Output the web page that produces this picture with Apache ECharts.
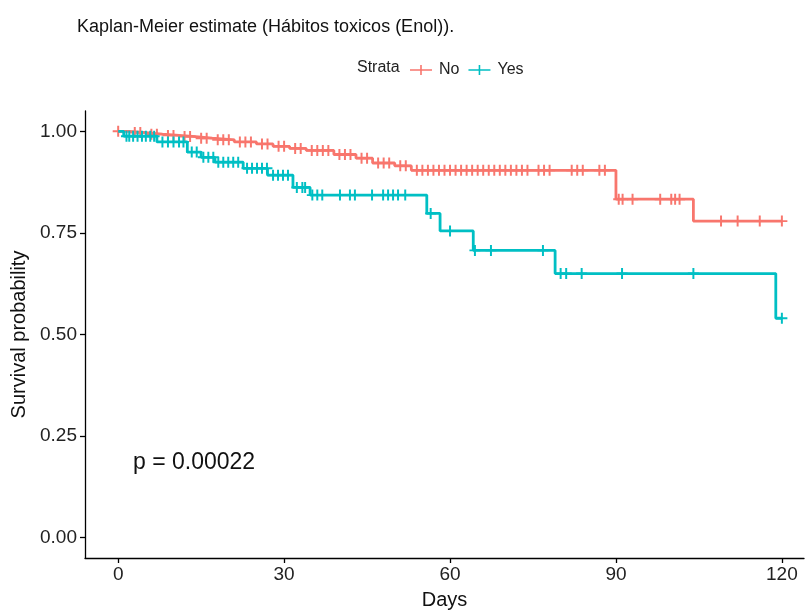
<!DOCTYPE html>
<html>
<head>
<meta charset="utf-8">
<script src="https://cdn.jsdelivr.net/npm/echarts@6/dist/echarts.min.js"></script>
<style>html,body{margin:0;padding:0;background:#fff;}#c{width:806px;height:616px;}</style>
</head>
<body>
<div id="c"></div>
<script>
// ---- data ----
const titleText = 'Kaplan-Meier estimate (Hábitos toxicos (Enol)).';
const strataNames = ['No', 'Yes'];
const xTicks = [0, 30, 60, 90, 120];
const yTicks = [0, 0.25, 0.5, 0.75, 1];
const pText = 'p = 0.00022';

const noEventDays = [2, 5, 8, 11, 14, 17, 21, 25, 28, 31, 34, 39, 43, 46, 50, 53, 90, 104];
const noSurv      = [0.997, 0.993, 0.99, 0.987, 0.983, 0.979, 0.974, 0.969, 0.963, 0.958, 0.953, 0.943, 0.934, 0.922, 0.915, 0.904, 0.833, 0.779];
const noCensorDays = [0, 3, 4, 6, 7, 9, 10, 12, 13, 15, 16, 18, 19, 20, 22, 23, 24, 26, 27, 29, 30, 32, 33, 35, 36, 37, 38, 40, 41, 42, 44, 45, 47, 48, 49, 51, 52, 54, 55, 56, 57, 58, 59, 60, 61, 62, 63, 64, 65, 66, 67, 68, 69, 70, 71, 72, 73, 74, 76, 77, 78, 82, 83, 84, 87, 88, 90.5, 91.2, 93, 98, 100, 100.7, 101.5, 109, 112, 116, 120];

const yesEventDays = [1, 7, 12.5, 15, 17.5, 22.6, 27, 31.6, 34.7, 55.8, 58.2, 64.2, 79, 118.9];
const yesSurv      = [0.988, 0.974, 0.949, 0.936, 0.924, 0.909, 0.892, 0.862, 0.843, 0.798, 0.755, 0.707, 0.65, 0.54];
const yesCensorDays = [1.5, 2, 2.7, 3.5, 4.3, 5, 5.8, 6.5, 8, 9, 10, 11, 11.8, 13.3, 14.2, 15.4, 16.3, 17.2, 18.1, 19, 19.9, 20.8, 21.7, 23.3, 24.2, 25.1, 26, 26.9, 28, 28.9, 29.8, 30.7, 32.3, 33.3, 33.8, 35.1, 36, 36.9, 40.1, 41.9, 42.8, 45.9, 47.9, 48.8, 49.7, 50.6, 51.9, 56.5, 60, 64.5, 67.4, 76.8, 80, 81, 83.8, 91.1, 104, 120];

const endDay = 120;

// ---- helpers ----
function stepLine(days, surv) {
  const pts = [[0, 1]];
  for (let i = 0; i < days.length; i++) pts.push([days[i], surv[i]]);
  pts.push([endDay, surv[surv.length - 1]]);
  return pts;
}
function survAt(days, surv, t) {
  let s = 1;
  for (let i = 0; i < days.length; i++) if (days[i] <= t) s = surv[i];
  return s;
}
function censorPts(cd, days, surv) {
  return cd.map(t => [t, survAt(days, surv, t)]);
}

const colNo = '#F8766D', colYes = '#00BFC4';
const plusPath = 'path://M4.1,0H5.9V4.1H10V5.9H5.9V10H4.1V5.9H0V4.1H4.1Z';
const legendIcon = 'path://M0,4.2H22V5.8H0Z M10.2,0H11.8V10H10.2Z';
const font = 'Liberation Sans, Arial, sans-serif';

const chart = echarts.init(document.getElementById('c'), null, {renderer: 'canvas'});
chart.setOption({
  animation: false,
  backgroundColor: '#fff',
  title: {
    text: titleText, left: 72, top: 13,
    textStyle: {fontFamily: font, fontSize: 18, fontWeight: 'normal', color: '#111'}
  },
  legend: {
    left: 405, top: 57, itemWidth: 22, itemHeight: 10, itemGap: 9,
    data: [{name: 'No', icon: legendIcon}, {name: 'Yes', icon: legendIcon}],
    textStyle: {fontFamily: font, fontSize: 16, color: '#222', padding: [0, 0, 0, 2]}
  },
  graphic: [
    {type: 'text', left: 357, top: 60, style: {text: 'Strata', font: '16px ' + font, fill: '#222'}},
    {type: 'text', left: 133, top: 451, style: {text: pText, font: '23px ' + font, fill: '#111'}}
  ],
  grid: {left: 85, right: 2, top: 111, bottom: 58},
  xAxis: {
    type: 'value', min: -6, max: 124,
    name: 'Days', nameLocation: 'middle', nameGap: 32,
    nameTextStyle: {fontFamily: font, fontSize: 20, color: '#111'},
    axisLine: {show: true, onZero: false, lineStyle: {color: '#000', width: 1.3}},
    axisTick: {show: true, customValues: xTicks, length: 5, lineStyle: {color: '#000', width: 1.3}},
    axisLabel: {customValues: xTicks, fontFamily: font, fontSize: 19, color: '#222', margin: 7},
    splitLine: {show: false}
  },
  yAxis: {
    type: 'value', min: -0.05, max: 1.05,
    name: 'Survival probability', nameLocation: 'middle', nameGap: 56, nameRotate: 90,
    nameTextStyle: {fontFamily: font, fontSize: 20, color: '#111'},
    axisLine: {show: true, onZero: false, lineStyle: {color: '#000', width: 1.3}},
    axisTick: {show: true, customValues: yTicks, length: 5, lineStyle: {color: '#000', width: 1.3}},
    axisLabel: {customValues: yTicks, fontFamily: font, fontSize: 19, color: '#222', margin: 8,
      formatter: v => v.toFixed(2)},
    splitLine: {show: false}
  },
  series: [
    {name: 'No', type: 'line', step: 'end', showSymbol: false, symbol: 'none',
      data: stepLine(noEventDays, noSurv), lineStyle: {color: colNo, width: 2.8}, itemStyle: {color: colNo}, z: 2},
    {name: 'Yes', type: 'line', step: 'end', showSymbol: false, symbol: 'none',
      data: stepLine(yesEventDays, yesSurv), lineStyle: {color: colYes, width: 2.8}, itemStyle: {color: colYes}, z: 3},
    {name: 'No', type: 'scatter', symbol: plusPath, symbolSize: 11,
      data: censorPts(noCensorDays, noEventDays, noSurv), itemStyle: {color: colNo, opacity: 1}, z: 2},
    {name: 'Yes', type: 'scatter', symbol: plusPath, symbolSize: 11,
      data: censorPts(yesCensorDays, yesEventDays, yesSurv), itemStyle: {color: colYes, opacity: 1}, z: 3}
  ]
});
</script>
</body>
</html>
